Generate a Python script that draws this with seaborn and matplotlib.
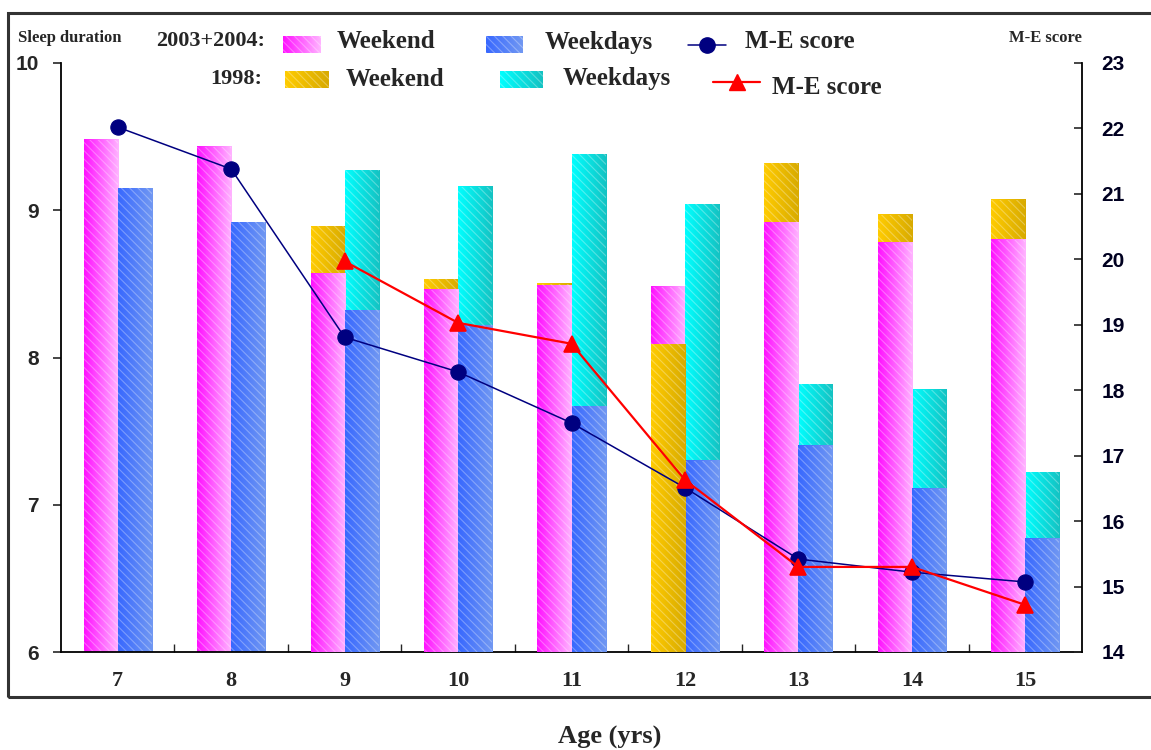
import numpy as np
import pandas as pd
import matplotlib
matplotlib.use("Agg")
import matplotlib.pyplot as plt
import matplotlib.colors as mcolors
from matplotlib.patches import Rectangle
from matplotlib.lines import Line2D
from matplotlib.ticker import FixedLocator
import seaborn as sns

# values
ages = ["7", "8", "9", "10", "11", "12", "13", "14", "15"]
weekend_0304 = [9.48, 9.43, 8.57, 8.46, 8.49, 8.48, 8.92, 8.78, 8.80]
weekdays_0304 = [9.15, 8.92, 8.32, 8.22, 7.67, 7.30, 7.40, 7.11, 6.77]
weekend_1998 = [np.nan, np.nan, 8.89, 8.53, 8.50, 8.09, 9.32, 8.97, 9.07]
weekdays_1998 = [np.nan, np.nan, 9.27, 9.16, 9.38, 9.04, 7.82, 7.78, 7.22]
me_0304 = [22.02, 21.38, 18.81, 18.28, 17.50, 16.51, 15.42, 15.22, 15.07]
me_1998 = [np.nan, np.nan, 19.97, 19.03, 18.71, 16.63, 15.30, 15.30, 14.72]

MAGENTA, BLUE, GOLD, CYAN = "#ff40ff", "#4a7cf6", "#f0c000", "#00e8e8"
# left -> right shading of each bar colour
grads = {
    MAGENTA: ("#ff10ff", "#ffb4ff"),
    BLUE: ("#3868ff", "#7198f2"),
    GOLD: ("#ffcc00", "#d8aa00"),
    CYAN: ("#00ffff", "#14c2c2"),
}

sns.set_style("white")
plt.rcParams["hatch.linewidth"] = 0.8
SERIF = "Liberation Serif"
SANS = "Liberation Sans"

W, H = 1151, 750


def fx(px):
    return px / W


def fy(py):
    return 1 - py / H


def long_df(we, wd):
    df = pd.DataFrame({"age": ages * 2,
                       "kind": ["Weekend"] * len(ages) + ["Weekdays"] * len(ages),
                       "hours": list(we) + list(wd)})
    return df.dropna()


fig = plt.figure(figsize=(W / 100, H / 100), dpi=100)
ax = fig.add_axes([fx(61), 1 - 652 / H, fx(1082) - fx(61), (652 - 63) / H])

sns.barplot(data=long_df(weekend_0304, weekdays_0304), x="age", y="hours", hue="kind",
            order=ages, hue_order=["Weekend", "Weekdays"], palette=[MAGENTA, BLUE],
            width=0.6, saturation=1, errorbar=None, legend=False, ax=ax)
sns.barplot(data=long_df(weekend_1998, weekdays_1998), x="age", y="hours", hue="kind",
            order=ages, hue_order=["Weekend", "Weekdays"], palette=[GOLD, CYAN],
            width=0.6, saturation=1, errorbar=None, legend=False, ax=ax)

# shorter bar of each overlapping pair sits in front
groups = {}
for p in ax.patches:
    groups.setdefault(round(p.get_x(), 3), []).append(p)
for plist in groups.values():
    plist.sort(key=lambda q: -q.get_height())
    for i, p in enumerate(plist):
        p.set_zorder(2 + i)


def shade(target, p, c0, c1):
    # horizontal colour ramp under a striped bar
    x0, y0, w, h = p.get_x(), p.get_y(), p.get_width(), p.get_height()
    cmap = mcolors.LinearSegmentedColormap.from_list("g", [c0, c1])
    target.imshow(np.linspace(0, 1, 64)[None, :], cmap=cmap, aspect="auto",
                  extent=[x0, x0 + w, y0, y0 + h], origin="lower",
                  zorder=p.get_zorder() - 0.01, interpolation="bilinear")
    p.set_facecolor("none")
    p.set_edgecolor((1, 1, 1, 0.3))
    p.set_linewidth(0)
    p.set_hatch("\\\\\\\\")


for p in list(ax.patches):
    key = mcolors.to_hex(p.get_facecolor())
    for c, (c0, c1) in grads.items():
        if mcolors.to_hex(c) == key:
            shade(ax, p, c0, c1)

ax.set_xlim(-0.5, 8.5)
ax.set_ylim(6, 10)
ax.set_yticks([6, 7, 8, 9, 10])
ax.set_xlabel("")
ax.set_ylabel("")
for s in ["top", "right"]:
    ax.spines[s].set_visible(False)
ax.spines["left"].set_linewidth(1.3)
ax.spines["bottom"].set_linewidth(1.3)
ax.spines["left"].set_color("black")
ax.spines["bottom"].set_color("black")
ax.tick_params(axis="y", direction="out", length=6, width=1.2, pad=10, labelsize=15)
ax.tick_params(axis="x", which="major", length=0, pad=14)
ax.xaxis.set_minor_locator(FixedLocator(np.arange(0.5, 8, 1)))
ax.tick_params(axis="x", which="minor", direction="in", length=6, width=1, bottom=True)
for lab in ax.get_yticklabels():
    lab.set_fontfamily(SANS)
    lab.set_fontweight("bold")
ax.set_xticks(range(len(ages)))
ax.set_xticklabels(ages, fontfamily=SERIF, fontweight="bold", fontsize=16)

# M-E score lines on the right axis
ax2 = ax.twinx()
sns.pointplot(x=ages, y=me_0304, order=ages, color="#000080", markers="o",
              markersize=11, linewidth=1.1, errorbar=None, ax=ax2)
sns.pointplot(x=ages, y=me_1998, order=ages, color="#ff0000", markers="^",
              markersize=11, linewidth=1.6, errorbar=None, ax=ax2)
ax2.set_xlim(-0.5, 8.5)
ax2.set_ylim(14, 23)
ax2.set_yticks(range(14, 24))
ax2.set_ylabel("")
ax2.set_xlabel("")
for s in ["top", "left", "bottom"]:
    ax2.spines[s].set_visible(False)
ax2.spines["right"].set_linewidth(1.3)
ax2.spines["right"].set_color("black")
ax2.tick_params(axis="y", direction="in", length=6, width=1.2, pad=14, labelsize=15,
                right=True)
for lab in ax2.get_yticklabels():
    lab.set_fontfamily(SANS)
    lab.set_fontweight("bold")
    lab.set_color("#000020")

# outer frame
fig.add_artist(Rectangle((fx(8), fy(697)), 1.2, fy(13) - fy(697), transform=fig.transFigure,
                         fill=False, lw=2.2, ec="#333333", clip_on=False))

# axis titles
fig.text(fx(18), fy(38), "Sleep duration", fontfamily=SERIF, fontweight="bold",
         fontsize=12, va="center", ha="left")
fig.text(fx(1009), fy(38), "M-E score", fontfamily=SERIF, fontweight="bold",
         fontsize=12, va="center", ha="left")
fig.text(fx(610), fy(737), "Age (yrs)", fontfamily=SERIF, fontweight="bold",
         fontsize=19, va="center", ha="center")


# legend, drawn by hand
def swatch(x0, x1, y0, y1, color):
    c0, c1 = grads[color]
    sax = fig.add_axes([fx(x0), fy(y1), fx(x1) - fx(x0), fy(y0) - fy(y1)])
    sax.axis("off")
    r = Rectangle((0, 0), 1, 1)
    sax.add_patch(r)
    shade(sax, r, c0, c1)
    sax.set_xlim(0, 1)
    sax.set_ylim(0, 1)


def legline(x0, x1, y, color, marker, lw):
    fig.add_artist(Line2D([fx(x0), fx(x1)], [fy(y), fy(y)], color=color, lw=lw,
                          transform=fig.transFigure))
    fig.add_artist(Line2D([fx((x0 + x1) / 2)], [fy(y)], color=color, marker=marker,
                          markersize=11, lw=0, transform=fig.transFigure))


def legtext(x, y, s, size=18, ha="left"):
    fig.text(fx(x), fy(y), s, fontfamily=SERIF, fontweight="bold", fontsize=size,
             va="center", ha=ha)


legtext(265, 41, "2003+2004:", size=16, ha="right")
swatch(283, 321, 36, 53, MAGENTA)
legtext(337, 42, "Weekend")
swatch(486, 523, 36, 53, BLUE)
legtext(545, 42, "Weekdays")
legline(688, 726, 45, "#000080", "o", 1.1)
legtext(745, 42, "M-E score")

legtext(262, 79, "1998:", size=16, ha="right")
swatch(285, 329, 71, 88, GOLD)
legtext(346, 79, "Weekend")
swatch(500, 543, 71, 88, CYAN)
legtext(563, 79, "Weekdays")
legline(713, 760, 82, "#ff0000", "^", 1.6)
legtext(772, 88, "M-E score")

fig.savefig("out.png", dpi=100)
